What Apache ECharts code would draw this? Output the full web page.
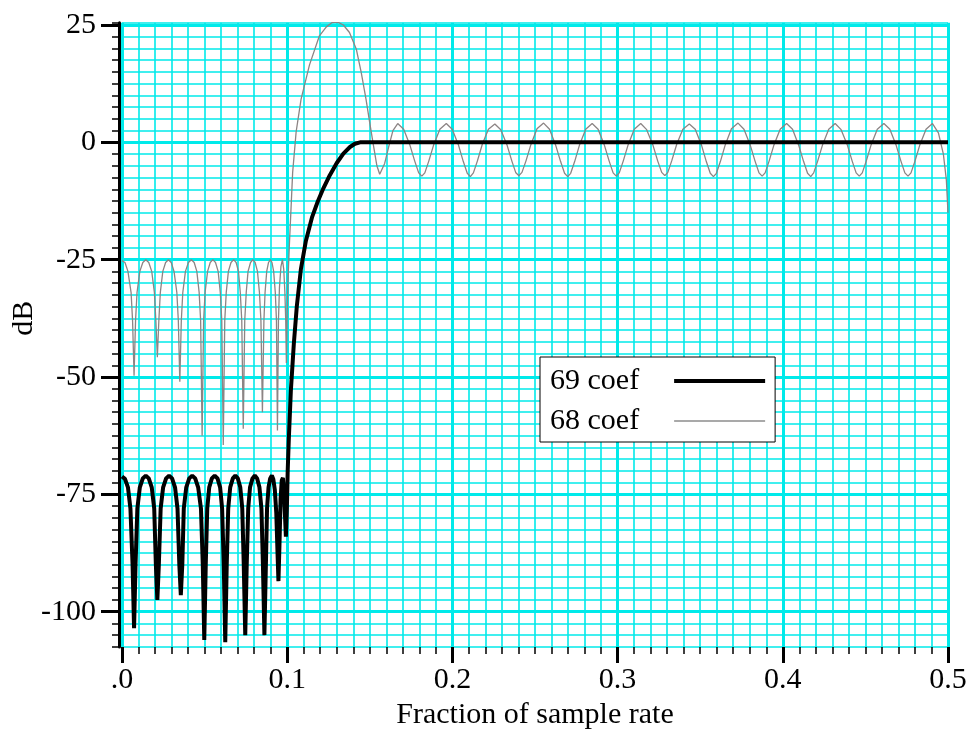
<!DOCTYPE html>
<html><head><meta charset="utf-8">
<script src="https://cdn.jsdelivr.net/npm/echarts@6/dist/echarts.min.js"></script>
<style>html,body{margin:0;padding:0;background:#fff}#c{width:968px;height:731px}</style>
</head><body><div id="c"></div>
<script>
const xTickValues = [0, 0.1, 0.2, 0.3, 0.4, 0.5];
const xTickLabels = ['.0', '0.1', '0.2', '0.3', '0.4', '0.5'];
const yTickValues = [-100, -75, -50, -25, 0, 25];
const yTickLabels = ['-100', '-75', '-50', '-25', '0', '25'];
const seriesNames = ['69 coef', '68 coef'];
const xTitle = 'Fraction of sample rate';
const yTitle = 'dB';

// 69 coefficient filter (thick black)
const freq69 = [0, 0.0018, 0.0036, 0.0051, 0.0064, 0.0073, 0.0082, 0.0093, 0.0108, 0.0126,
  0.0144, 0.0162, 0.0180, 0.0195, 0.0205, 0.0214, 0.0223, 0.0234, 0.0249, 0.0267,
  0.0285, 0.0303, 0.0321, 0.0336, 0.0347, 0.0356, 0.0365, 0.0374, 0.0389, 0.0407,
  0.0425, 0.0443, 0.0461, 0.0478, 0.0489, 0.0498, 0.0507, 0.0516, 0.0528, 0.0544,
  0.0561, 0.0578, 0.0594, 0.0606, 0.0616, 0.0625, 0.0634, 0.0643, 0.0655, 0.0671,
  0.0686, 0.0701, 0.0716, 0.0728, 0.0737, 0.0746, 0.0755, 0.0764, 0.0775, 0.0790,
  0.0804, 0.0818, 0.0832, 0.0844, 0.0853, 0.0862, 0.0871, 0.0878, 0.0887, 0.0897,
  0.0907, 0.0916, 0.0925, 0.0934, 0.0941, 0.0947, 0.0953, 0.0960, 0.0967,
  0.0974, 0.0980, 0.0986, 0.0992, 0.0998, 0.1003,
  0.1010, 0.1022, 0.1040, 0.1058, 0.1083, 0.1113, 0.1150, 0.1185, 0.1219,
  0.1258, 0.1300, 0.1340, 0.1380, 0.1410, 0.1441, 0.2, 0.3, 0.4, 0.5];
const db69 = [-71.2, -71.7, -73.5, -78, -90, -103.5, -90, -78, -73.5, -71.6,
  -71, -71.6, -73.5, -78, -90, -97.5, -90, -78, -73.5, -71.6,
  -71, -71.6, -73.5, -78, -90, -96.5, -90, -78, -73.5, -71.6,
  -71, -71.6, -73.5, -78, -90, -106, -90, -78, -73.5, -71.6,
  -71, -71.6, -73.5, -78, -90, -106.5, -90, -78, -73.5, -71.6,
  -71, -71.6, -73.5, -78, -90, -105, -90, -78, -73.5, -71.6,
  -71, -71.6, -73.5, -78, -90, -105, -90, -78, -73.5, -71.6,
  -71, -71.8, -74, -79, -87, -93.5, -86, -76, -72,
  -71.5, -74, -79, -84, -78, -70,
  -63, -53, -43, -35, -27, -21, -16, -12.6, -9.8,
  -7.0, -4.4, -2.4, -1.0, -0.3, 0, 0, 0, 0, 0];

// 68 coefficient filter (thin grey)
const freq68 = [0, 0.0018, 0.0036, 0.0055, 0.0064, 0.0073, 0.0082, 0.0091, 0.0108, 0.0126,
  0.0144, 0.0162, 0.0180, 0.0196, 0.0205, 0.0214, 0.0223, 0.0232, 0.0247, 0.0264,
  0.0281, 0.0298, 0.0315, 0.0332, 0.0341, 0.0350, 0.0359, 0.0368, 0.0384, 0.0402,
  0.0420, 0.0437, 0.0453, 0.0467, 0.0476, 0.0485, 0.0494, 0.0503, 0.0518, 0.0534,
  0.0550, 0.0566, 0.0582, 0.0595, 0.0604, 0.0613, 0.0622, 0.0631, 0.0644, 0.0660,
  0.0676, 0.0691, 0.0705, 0.0716, 0.0725, 0.0734, 0.0743, 0.0752, 0.0763, 0.0778,
  0.0792, 0.0806, 0.0820, 0.0832, 0.0841, 0.0850, 0.0859, 0.0866, 0.0876, 0.0887,
  0.0898, 0.0908, 0.0918, 0.0928, 0.0935, 0.0941, 0.0947, 0.0953, 0.0962,
  0.0971, 0.0979, 0.0986, 0.0991, 0.0995, 0.0999, 0.1004,
  0.1013, 0.1033, 0.1054, 0.1084, 0.1135, 0.1195, 0.1237,
  0.1270, 0.1307, 0.1340, 0.1377, 0.1418, 0.1448, 0.1477, 0.1499, 0.1519, 0.1543, 0.1560, 0.1590,
  0.1614, 0.1640, 0.1669,
  0.1705, 0.1742, 0.1772, 0.1796, 0.1815, 0.1833, 0.1857, 0.1887, 0.1924, 0.1963,
  0.1999, 0.2036, 0.2066, 0.2090, 0.2109, 0.2127, 0.2151, 0.2181, 0.2218, 0.2257,
  0.2293, 0.2330, 0.2360, 0.2384, 0.2403, 0.2421, 0.2445, 0.2475, 0.2512, 0.2552,
  0.2588, 0.2625, 0.2655, 0.2679, 0.2698, 0.2716, 0.2740, 0.2770, 0.2807, 0.2846,
  0.2882, 0.2919, 0.2949, 0.2973, 0.2992, 0.3010, 0.3034, 0.3064, 0.3101, 0.3140,
  0.3176, 0.3213, 0.3243, 0.3267, 0.3286, 0.3304, 0.3328, 0.3358, 0.3395, 0.3434,
  0.3470, 0.3507, 0.3537, 0.3561, 0.3580, 0.3598, 0.3622, 0.3652, 0.3689, 0.3729,
  0.3765, 0.3802, 0.3832, 0.3856, 0.3875, 0.3893, 0.3917, 0.3947, 0.3984, 0.4023,
  0.4059, 0.4096, 0.4126, 0.4150, 0.4169, 0.4187, 0.4211, 0.4241, 0.4278, 0.4317,
  0.4353, 0.4390, 0.4420, 0.4444, 0.4463, 0.4481, 0.4505, 0.4535, 0.4572, 0.4612,
  0.4648, 0.4685, 0.4715, 0.4739, 0.4758, 0.4776, 0.4800, 0.4830, 0.4867, 0.4906,
  0.4942, 0.4972, 0.4990, 0.5];
const db68 = [-25.2, -25.6, -27.5, -32, -38, -49.7, -38, -32, -27.5, -25.6,
  -25, -25.6, -27.5, -32, -38, -45.8, -38, -32, -27.5, -25.6,
  -25, -25.6, -27.5, -32, -38, -51, -38, -32, -27.5, -25.6,
  -25, -25.6, -27.5, -32, -38, -62.5, -38, -32, -27.5, -25.6,
  -25, -25.6, -27.5, -32, -38, -64.5, -38, -32, -27.5, -25.6,
  -25, -25.6, -27.5, -32, -38, -61, -38, -32, -27.5, -25.6,
  -25, -25.6, -27.5, -32, -38, -57.5, -38, -32, -27.5, -25.6,
  -25, -25.6, -27.5, -32, -38, -61.4, -38, -31, -26.5,
  -25, -27, -32, -38, -47, -38, -30,
  -22, -6.4, 2.2, 9.2, 16.5, 22.7, 24.6,
  25.5, 25.6, 25.0, 23.4, 19.9, 14.9, 9.2, 4.3, 0, -5.0, -6.8, -4.5,
  -1, 2.5, 4.0,
  2.8, -0.5, -4.0, -6.5, -7.2, -6.5, -4.0, -0.5, 2.8, 4.0,
  2.8, -0.5, -4.1, -6.6, -7.3, -6.5, -4.0, -0.4, 2.8, 3.9,
  2.7, -0.5, -4.0, -6.5, -7.1, -6.4, -4.0, -0.5, 2.9, 4.1,
  2.8, -0.6, -4.1, -6.6, -7.3, -6.6, -4.1, -0.5, 2.8, 4.0,
  2.8, -0.5, -4.0, -6.5, -7.2, -6.5, -4.0, -0.5, 2.8, 4.0,
  2.7, -0.5, -4.0, -6.4, -7.1, -6.4, -3.9, -0.4, 2.8, 3.9,
  2.8, -0.5, -4.1, -6.6, -7.3, -6.6, -4.1, -0.5, 2.9, 4.1,
  2.8, -0.5, -4.0, -6.5, -7.2, -6.5, -4.0, -0.5, 2.8, 4.0,
  2.8, -0.6, -4.1, -6.6, -7.3, -6.5, -4.0, -0.5, 2.8, 4.0,
  2.7, -0.5, -4.0, -6.5, -7.2, -6.5, -4.0, -0.5, 2.8, 4.0,
  2.8, -0.5, -4.0, -6.5, -7.2, -6.5, -4.0, -0.5, 2.8, 4.0,
  2.0, -2.5, -8, -15];

const FONT = '"Liberation Serif", "Times New Roman", serif';
const CYAN = '#00eaea';
const zip = (xs, ys) => xs.map((x, i) => [x, ys[i]]);
const labelFor = (vals, labels) => (v) => {
  const i = vals.findIndex(t => Math.abs(t - v) < 1e-9);
  return i >= 0 ? labels[i] : '';
};
const txt = {fontFamily: FONT, fontSize: 30, color: '#000'};

const chart = echarts.init(document.getElementById('c'), null, {renderer: 'canvas'});
chart.setOption({
  animation: false,
  backgroundColor: '#ffffff',
  grid: [
    {left: 122, right: 20, top: 22.65, bottom: 84.1, show: true, backgroundColor: '#ffffff', borderWidth: 0, containLabel: false, outerBoundsMode: 'none'},
    {left: 122, right: 20, top: 25, bottom: 119.3, show: false, containLabel: false, outerBoundsMode: 'none'}
  ],
  xAxis: [
    {gridIndex: 0, type: 'value', min: 0, max: 0.5, interval: 0.1, position: 'bottom',
      axisLine: {show: false, onZero: false},
      axisTick: {show: true, length: 16, lineStyle: {color: '#000', width: 3}},
      minorTick: {show: true, splitNumber: 10, length: 7, lineStyle: {color: '#000', width: 1.5}},
      splitLine: {show: true, lineStyle: {color: CYAN, width: 3}},
      minorSplitLine: {show: true, lineStyle: {color: CYAN, width: 1.6}},
      axisLabel: Object.assign({margin: 18, formatter: labelFor(xTickValues, xTickLabels)}, txt),
      name: xTitle, nameLocation: 'middle', nameGap: 53, nameMoveOverlap: false, nameTextStyle: txt},
    {gridIndex: 1, type: 'value', min: 0, max: 0.5, show: false, axisLine: {onZero: false}}
  ],
  yAxis: [
    {gridIndex: 0, type: 'value', min: -107.5, max: 25.5, interval: 2.5, offset: 3, position: 'left',
      axisLine: {show: true, onZero: false, lineStyle: {color: '#000', width: 3}},
      axisTick: {show: true, length: 7, lineStyle: {color: '#000', width: 1.5}},
      axisLabel: {show: false},
      splitLine: {show: true, lineStyle: {color: CYAN, width: 1.6}}},
    {gridIndex: 1, type: 'value', min: -100, max: 25, interval: 25, offset: 3, position: 'left',
      axisLine: {show: false, onZero: false},
      axisTick: {show: true, length: 18, lineStyle: {color: '#000', width: 3}},
      axisLabel: Object.assign({margin: 23, formatter: labelFor(yTickValues, yTickLabels)}, txt),
      splitLine: {show: true, lineStyle: {color: CYAN, width: 3}},
      name: yTitle, nameLocation: 'middle', nameGap: 80, nameMoveOverlap: false, nameTextStyle: txt}
  ],
  legend: {
    left: 540, top: 357, orient: 'vertical', align: 'right',
    itemWidth: 91, itemHeight: 30, itemGap: 10,
    padding: [9, 8, 6, 10],
    backgroundColor: '#ffffff', borderColor: '#000', borderWidth: 1, borderRadius: 0,
    textStyle: txt, selectedMode: false,
    formatter: n => n + '\u00a0\u00a0\u00a0\u00a0',
    data: [
      {name: seriesNames[0], lineStyle: {width: 4, color: '#000'}, itemStyle: {opacity: 0, borderWidth: 0}},
      {name: seriesNames[1], lineStyle: {width: 1.5, color: '#8c8c8c'}, itemStyle: {opacity: 0, borderWidth: 0}}
    ]
  },
  series: [
    {name: seriesNames[1], type: 'line', xAxisIndex: 0, yAxisIndex: 0, symbol: 'none', showSymbol: false,
      data: zip(freq68, db68), lineStyle: {color: '#8c8484', width: 1.3}, itemStyle: {color: '#8c8c8c'}, z: 3},
    {name: seriesNames[0], type: 'line', xAxisIndex: 0, yAxisIndex: 0, symbol: 'none', showSymbol: false,
      data: zip(freq69, db69), lineStyle: {color: '#000', width: 4}, itemStyle: {color: '#000'}, z: 4}
  ]
});
</script>
</body></html>
